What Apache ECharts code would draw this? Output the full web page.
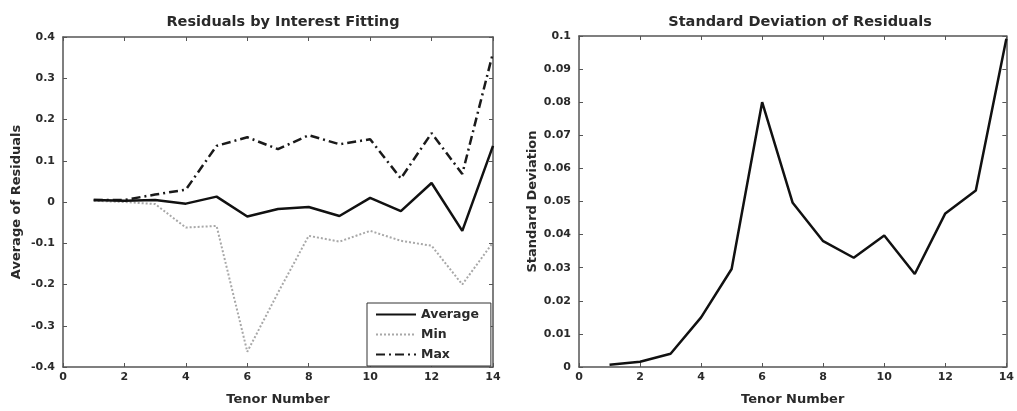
<!DOCTYPE html>
<html>
<head>
<meta charset="utf-8">
<script src="https://cdn.jsdelivr.net/npm/echarts@6/dist/echarts.min.js"></script>
<style>
html,body{margin:0;padding:0;background:#fff;}
#chart{width:1017px;height:411px;}
</style>
</head>
<body>
<div id="chart"></div>
<script>
const tenors = [1,2,3,4,5,6,7,8,9,10,11,12,13,14];
const avgResid = [0.005,0.003,0.005,-0.004,0.013,-0.035,-0.017,-0.012,-0.034,0.010,-0.022,0.046,-0.070,0.136];
const minResid = [0.003,0.000,-0.005,-0.062,-0.058,-0.363,-0.220,-0.082,-0.096,-0.070,-0.094,-0.106,-0.200,-0.098];
const maxResid = [0.005,0.005,0.018,0.030,0.136,0.157,0.128,0.162,0.140,0.152,0.057,0.167,0.068,0.362];
const stdResid = [0.0007,0.0016,0.0040,0.0150,0.0296,0.0800,0.0496,0.0380,0.0330,0.0397,0.0281,0.0464,0.0533,0.0992];
const seriesNames = ['Average','Min','Max'];
const titles = ['Residuals by Interest Fitting','Standard Deviation of Residuals'];
const xName = 'Tenor Number';
const yNames = ['Average of Residuals','Standard Deviation'];

const pairs = arr => tenors.map((t,i)=>[t,arr[i]]);
const FONT = '"DejaVu Sans", sans-serif';
const txt = '#2a2a2a';
const axisCol = '#555';

function xAx(grid, pos, show){
  return {type:'value', gridIndex:grid, position:pos, min:0, max:14, interval:2,
    name: show ? xName : '', nameLocation:'middle', nameGap:26,
    nameTextStyle:{fontFamily:FONT, fontSize:13, color:txt, fontWeight:'bold'},
    axisLine:{show:true, onZero:false, lineStyle:{color:axisCol, width:1.5}},
    axisTick:{show:true, inside:true, length:4, lineStyle:{color:axisCol}},
    axisLabel:{show:show, margin:5, fontFamily:FONT, fontSize:11, fontWeight:'bold', color:txt},
    splitLine:{show:false}};
}
function yAx(grid, pos, show, min, max, interval, nameGap, name){
  return {type:'value', gridIndex:grid, position:pos, min:min, max:max, interval:interval,
    name: show ? name : '', nameLocation:'middle', nameGap:nameGap,
    nameTextStyle:{fontFamily:FONT, fontSize:13, color:txt, fontWeight:'bold'},
    axisLine:{show:true, onZero:false, lineStyle:{color:axisCol, width:1.5}},
    axisTick:{show:true, inside:true, length:4, lineStyle:{color:axisCol}},
    axisLabel:{show:show, margin:8, fontFamily:FONT, fontSize:11, fontWeight:'bold', color:txt},
    splitLine:{show:false}};
}

const chart = echarts.init(document.getElementById('chart'), null, {renderer:'canvas'});
chart.setOption({
  backgroundColor:'#fff',
  animation:false,
  title:[
    {text:titles[0], left:278, top:10, textAlign:'center', textStyle:{fontFamily:FONT, fontSize:14.5, fontWeight:'bold', color:txt}},
    {text:titles[1], left:795, top:10, textAlign:'center', textStyle:{fontFamily:FONT, fontSize:14.5, fontWeight:'bold', color:txt}}
  ],
  grid:[
    {left:63, top:37, width:430, height:337},
    {left:579, top:36, width:432, height:337}
  ],
  xAxis:[ xAx(0,'bottom',true), xAx(0,'top',false), xAx(1,'bottom',true), xAx(1,'top',false) ],
  yAxis:[
    yAx(0,'left',true,-0.4,0.4,0.1,40,yNames[0]), yAx(0,'right',false,-0.4,0.4,0.1,0,''),
    yAx(1,'left',true,0,0.1,0.01,40,yNames[1]), yAx(1,'right',false,0,0.1,0.01,0,'')
  ],
  legend:{
    data:seriesNames, orient:'vertical', left:367, top:303,
    itemWidth:40, itemHeight:14, itemGap:7,
    padding:[5,12,5,8],
    itemStyle:{opacity:0},
    borderColor:'#333', borderWidth:1, backgroundColor:'#fff',
    textStyle:{fontFamily:FONT, fontSize:12.5, fontWeight:'bold', color:txt}
  },
  series:[
    {name:seriesNames[1], type:'line', xAxisIndex:0, yAxisIndex:0, data:pairs(minResid), symbol:'none',
      lineStyle:{color:'#a8a8a8', width:2, type:[2,2]}, itemStyle:{color:'#a8a8a8'}},
    {name:seriesNames[2], type:'line', xAxisIndex:0, yAxisIndex:0, data:pairs(maxResid), symbol:'none',
      lineStyle:{color:'#1a1a1a', width:2.5, type:[9,4,2,4]}, itemStyle:{color:'#1a1a1a'}},
    {name:seriesNames[0], type:'line', xAxisIndex:0, yAxisIndex:0, data:pairs(avgResid), symbol:'none',
      lineStyle:{color:'#111', width:2.5}, itemStyle:{color:'#111'}},
    {name:'Std', type:'line', xAxisIndex:2, yAxisIndex:2, data:pairs(stdResid), symbol:'none',
      lineStyle:{color:'#111', width:2.5}, itemStyle:{color:'#111'}}
  ]
});
</script>
</body>
</html>
